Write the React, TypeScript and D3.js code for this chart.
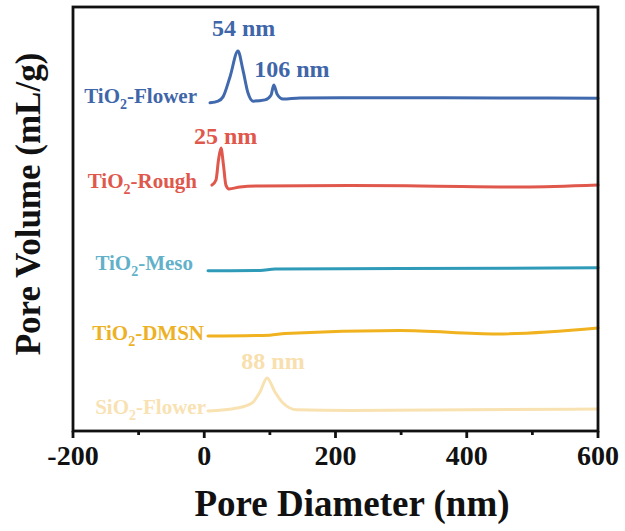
import * as d3 from 'd3';

// pore size distribution, arbitrary stacked volume units
const tio2Flower: [number, number][] = [
  [8.8, 7.74], [21, 7.78], [28.6, 7.88], [39.2, 8.35], [51.4, 8.96], [59, 8.51], [66.7, 7.97],
  [74.3, 7.78], [92.6, 7.81], [101.7, 7.92], [106, 8.16], [110.9, 7.95], [120, 7.83], [146, 7.855],
  [300, 7.86], [450, 7.855], [600, 7.85],
];
const tio2Rough: [number, number][] = [
  [11.8, 5.8], [17.9, 5.92], [21.7, 6.39], [25.5, 6.675], [29.3, 6.27], [33, 5.8], [37.7, 5.71],
  [54.5, 5.755], [85, 5.78], [222, 5.79], [329, 5.78], [485.8, 5.755], [600, 5.8],
];
const tio2Meso: [number, number][] = [
  [5.7, 3.78], [85, 3.785], [108, 3.82], [298, 3.83], [600, 3.85],
];
const tio2Dmsn: [number, number][] = [
  [5.7, 2.24], [100, 2.26], [123, 2.3], [298, 2.37], [446, 2.29], [600, 2.43],
];
const sio2Flower: [number, number][] = [
  [5.7, 0.472], [50, 0.542], [72.8, 0.66], [85, 0.92], [95.6, 1.25], [107.8, 0.92], [120, 0.66],
  [141, 0.5], [222, 0.483], [600, 0.519],
];

const majorTicks = [-200, 0, 200, 400, 600];
const minorTicks = [-100, 100, 300, 500];

const series = [
  { name: 'Flower', base: 'TiO', data: tio2Flower, color: '#4169ad', label: '#3f66a8', lx: 197, ly: 103 },
  { name: 'Rough', base: 'TiO', data: tio2Rough, color: '#e0574c', label: '#e0574c', lx: 197, ly: 188 },
  { name: 'Meso', base: 'TiO', data: tio2Meso, color: '#2f9bb8', label: '#62b1c9', lx: 193, ly: 270 },
  { name: 'DMSN', base: 'TiO', data: tio2Dmsn, color: '#f0b21e', label: '#edb126', lx: 204, ly: 340 },
  { name: 'Flower', base: 'SiO', data: sio2Flower, color: '#f9e2b2', label: '#f8e2b4', lx: 206, ly: 414 },
];

const peaks = [
  { text: '54 nm', at: 54, dx: 4, y: 36, color: '#3f66a8' },
  { text: '106 nm', at: 106, dx: 18, y: 77, color: '#3f66a8' },
  { text: '25 nm', at: 25, dx: 5, y: 144, color: '#e0574c' },
  { text: '88 nm', at: 88, dx: 11, y: 369, color: '#f8e0ae' },
];

export default function App() {
  const width = 625;
  const height = 531;
  const margin = { top: 7, right: 27, bottom: 100, left: 73 };

  const x = d3.scaleLinear().domain([-200, 600]).range([margin.left, width - margin.right]);
  const y = d3.scaleLinear().domain([0, 10]).range([height - margin.bottom, margin.top]);

  const line = d3.line<[number, number]>()
    .x(d => x(d[0]))
    .y(d => y(d[1]))
    .curve(d3.curveMonotoneX);

  const font = '"Liberation Serif", "Times New Roman", serif';
  const bottom = height - margin.bottom;

  return (
    <svg width={width} height={height} style={{ position: 'absolute', left: 0, top: 0, background: '#fff' }}
      fontFamily={font} fontWeight="bold">
      {series.map((s, i) => (
        <path key={i} d={line(s.data) ?? ''} fill="none" stroke={s.color} strokeWidth={3}
          strokeLinejoin="round" strokeLinecap="round" />
      ))}

      {series.map((s, i) => (
        <text key={i} x={s.lx} y={s.ly} textAnchor="end" fontSize={21} fill={s.label}>
          {s.base}<tspan fontSize={14} dy={6}>2</tspan><tspan dy={-6}>-{s.name}</tspan>
        </text>
      ))}

      {peaks.map((p, i) => (
        <text key={i} x={x(p.at) + p.dx} y={p.y} textAnchor="middle" fontSize={24} fill={p.color}>
          {p.text}
        </text>
      ))}

      <rect x={margin.left} y={margin.top} width={width - margin.left - margin.right}
        height={bottom - margin.top} fill="none" stroke="#111" strokeWidth={2.8} />

      {majorTicks.map(t => (
        <g key={t}>
          <line x1={x(t)} x2={x(t)} y1={bottom} y2={bottom + 7} stroke="#111" strokeWidth={2.8} />
          <text x={x(t)} y={bottom + 34} textAnchor="middle" fontSize={28} fill="#111">{t}</text>
        </g>
      ))}
      {minorTicks.map(t => (
        <line key={t} x1={x(t)} x2={x(t)} y1={bottom} y2={bottom + 4} stroke="#111" strokeWidth={2.8} />
      ))}

      <text x={352} y={516} textAnchor="middle" fontSize={37} fill="#111">
        Pore Diameter (nm)
      </text>
      <text transform={`translate(40,${204}) rotate(-90)`} textAnchor="middle" fontSize={35} fill="#111">
        Pore Volume (mL/g)
      </text>
    </svg>
  );
}
